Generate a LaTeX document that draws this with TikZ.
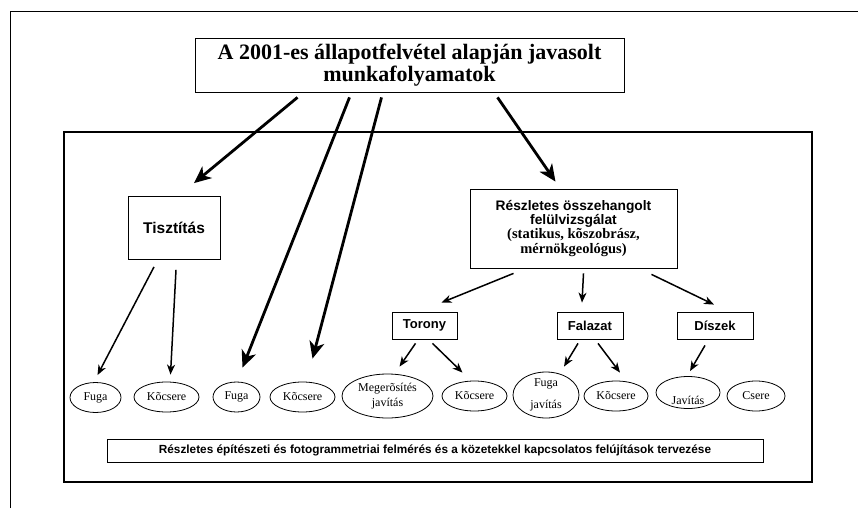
\documentclass[tikz,border=0pt]{standalone}
\usepackage{fontspec}
\setmainfont{Liberation Serif}
\setsansfont{Liberation Sans}
\usetikzlibrary{shapes.geometric,arrows.meta}

\tikzset{
  box/.style={draw, line width=0.8pt, inner sep=0pt, align=center},
  headbox/.style={box, font=\sffamily\bfseries\fontsize{13}{14}\selectfont},
  oval/.style={draw, ellipse, line width=0.8pt, inner sep=0pt, align=center,
    minimum height=30pt, font=\fontsize{12}{13}\selectfont},
  bigarrow/.style={line width=2.8pt, -{Stealth[length=17pt,width=15pt,inset=5pt]}},
  smallarrow/.style={line width=1.5pt, -{Stealth[length=10pt,width=8pt,inset=3pt]}},
}

\begin{document}
\begin{tikzpicture}[x=1pt,y=-1pt]
\useasboundingbox (0,0) rectangle (858,508);
% frames
\draw[line width=1pt] (10,508) -- (10,12) -- (858,12);
\draw[line width=2.5pt] (64,132) rectangle (812,482);
% boxes
\node[box, minimum width=429pt, minimum height=54pt,
  font=\bfseries\fontsize{22}{22}\selectfont] (title) at (409.5,65)
  {A 2001-es állapotfelvétel alapján javasolt\\munkafolyamatok};
\node[box, minimum width=92pt, minimum height=63pt,
  font=\sffamily\bfseries\fontsize{15.5}{16}\selectfont] (tiszt) at (174,228) {Tisztítás};
\node[box, minimum width=207pt, minimum height=79pt, font=\bfseries] (reszl) at (573.5,228.5)
  {\sffamily\fontsize{13.8}{13.5}\selectfont Részletes összehangolt\\
   \sffamily\fontsize{13.8}{13.5}\selectfont felülvizsgálat\\
   \rmfamily\fontsize{14.5}{13.5}\selectfont (statikus, kõszobrász,\\
   \rmfamily\fontsize{14.5}{14}\selectfont mérnökgeológus)};
\node[headbox, minimum width=65pt, minimum height=27pt] (torony) at (424.5,325.5) {Torony};
\node[headbox, minimum width=66pt, minimum height=27pt] (falazat) at (590,325.5) {Falazat};
\node[headbox, minimum width=76pt, minimum height=27pt] (diszek) at (715,325.5) {Díszek};
\node[box, minimum width=656pt, minimum height=23pt,
  font=\sffamily\bfseries\fontsize{11.8}{12}\selectfont] (felmeres) at (435,450.5)
  {Részletes építészeti és fotogrammetriai felmérés és a közetekkel kapcsolatos felújítások tervezése};
% ovals
\node[oval, minimum width=51pt] (fugaa) at (95.5,397.5) {Fuga};
\node[oval, minimum width=65pt] (koa) at (166.5,397) {Kõcsere};
\node[oval, minimum width=47pt] (fugab) at (236.5,397) {Fuga};
\node[oval, minimum width=65pt] (kob) at (302.5,397) {Kõcsere};
\node[oval, minimum width=91pt, minimum height=44pt] (meg) at (387.5,396) {Megerõsítés\\[2pt]javítás};
\node[oval, minimum width=65pt] (koc) at (474.5,396) {Kõcsere};
\node[oval, minimum width=66pt, minimum height=46pt] (fugaj) at (546,395) {Fuga\\[9pt]javítás};
\node[oval, minimum width=64pt] (kod) at (616,396) {Kõcsere};
\node[oval, minimum width=64pt, minimum height=32pt,
  label={[anchor=base, yshift=4pt, font=\fontsize{12}{13}\selectfont]south:Javítás}] (jav) at (688,392.5) {};
\node[oval, minimum width=58pt] (csere) at (756,396) {Csere};
% arrows from the title
\draw[bigarrow] ([xshift=-112pt,yshift=-5pt]title.south) -- ([xshift=20pt,yshift=13pt]tiszt.north);
\draw[bigarrow] ([xshift=-60pt,yshift=-5pt]title.south) -- ([xshift=6pt,yshift=14pt]fugab.north);
\draw[bigarrow] ([xshift=-28pt,yshift=-5pt]title.south) -- ([xshift=10pt,yshift=23pt]kob.north);
\draw[bigarrow] ([xshift=88pt,yshift=-5pt]title.south) -- ([xshift=-18pt,yshift=7pt]reszl.north);
% arrows below
\draw[smallarrow] ([xshift=-20pt,yshift=-7pt]tiszt.south) -- ([xshift=2pt,yshift=7pt]fugaa.north);
\draw[smallarrow] ([xshift=2pt,yshift=-10pt]tiszt.south) -- ([xshift=4pt,yshift=7pt]koa.north);
\draw[smallarrow] ([xshift=-60pt,yshift=-5pt]reszl.south) -- ([xshift=17pt,yshift=9pt]torony.north);
\draw[smallarrow] ([xshift=10pt,yshift=-5pt]reszl.south) -- ([xshift=-8pt,yshift=9pt]falazat.north);
\draw[smallarrow] ([xshift=78pt,yshift=-6pt]reszl.south) -- ([xshift=-1pt,yshift=7pt]diszek.north);
\draw[smallarrow] ([xshift=-9pt,yshift=-4pt]torony.south) -- ([xshift=12pt,yshift=7pt]meg.north);
\draw[smallarrow] ([xshift=8pt,yshift=-4pt]torony.south) -- ([xshift=-12pt,yshift=8pt]koc.north);
\draw[smallarrow] ([xshift=-12pt,yshift=-4pt]falazat.south) -- ([xshift=18pt,yshift=5pt]fugaj.north);
\draw[smallarrow] ([xshift=8pt,yshift=-4pt]falazat.south) -- ([xshift=4pt,yshift=8pt]kod.north);
\draw[smallarrow] ([xshift=-10pt,yshift=-6pt]diszek.south) -- ([xshift=2pt,yshift=5pt]jav.north);
\end{tikzpicture}
\end{document}
